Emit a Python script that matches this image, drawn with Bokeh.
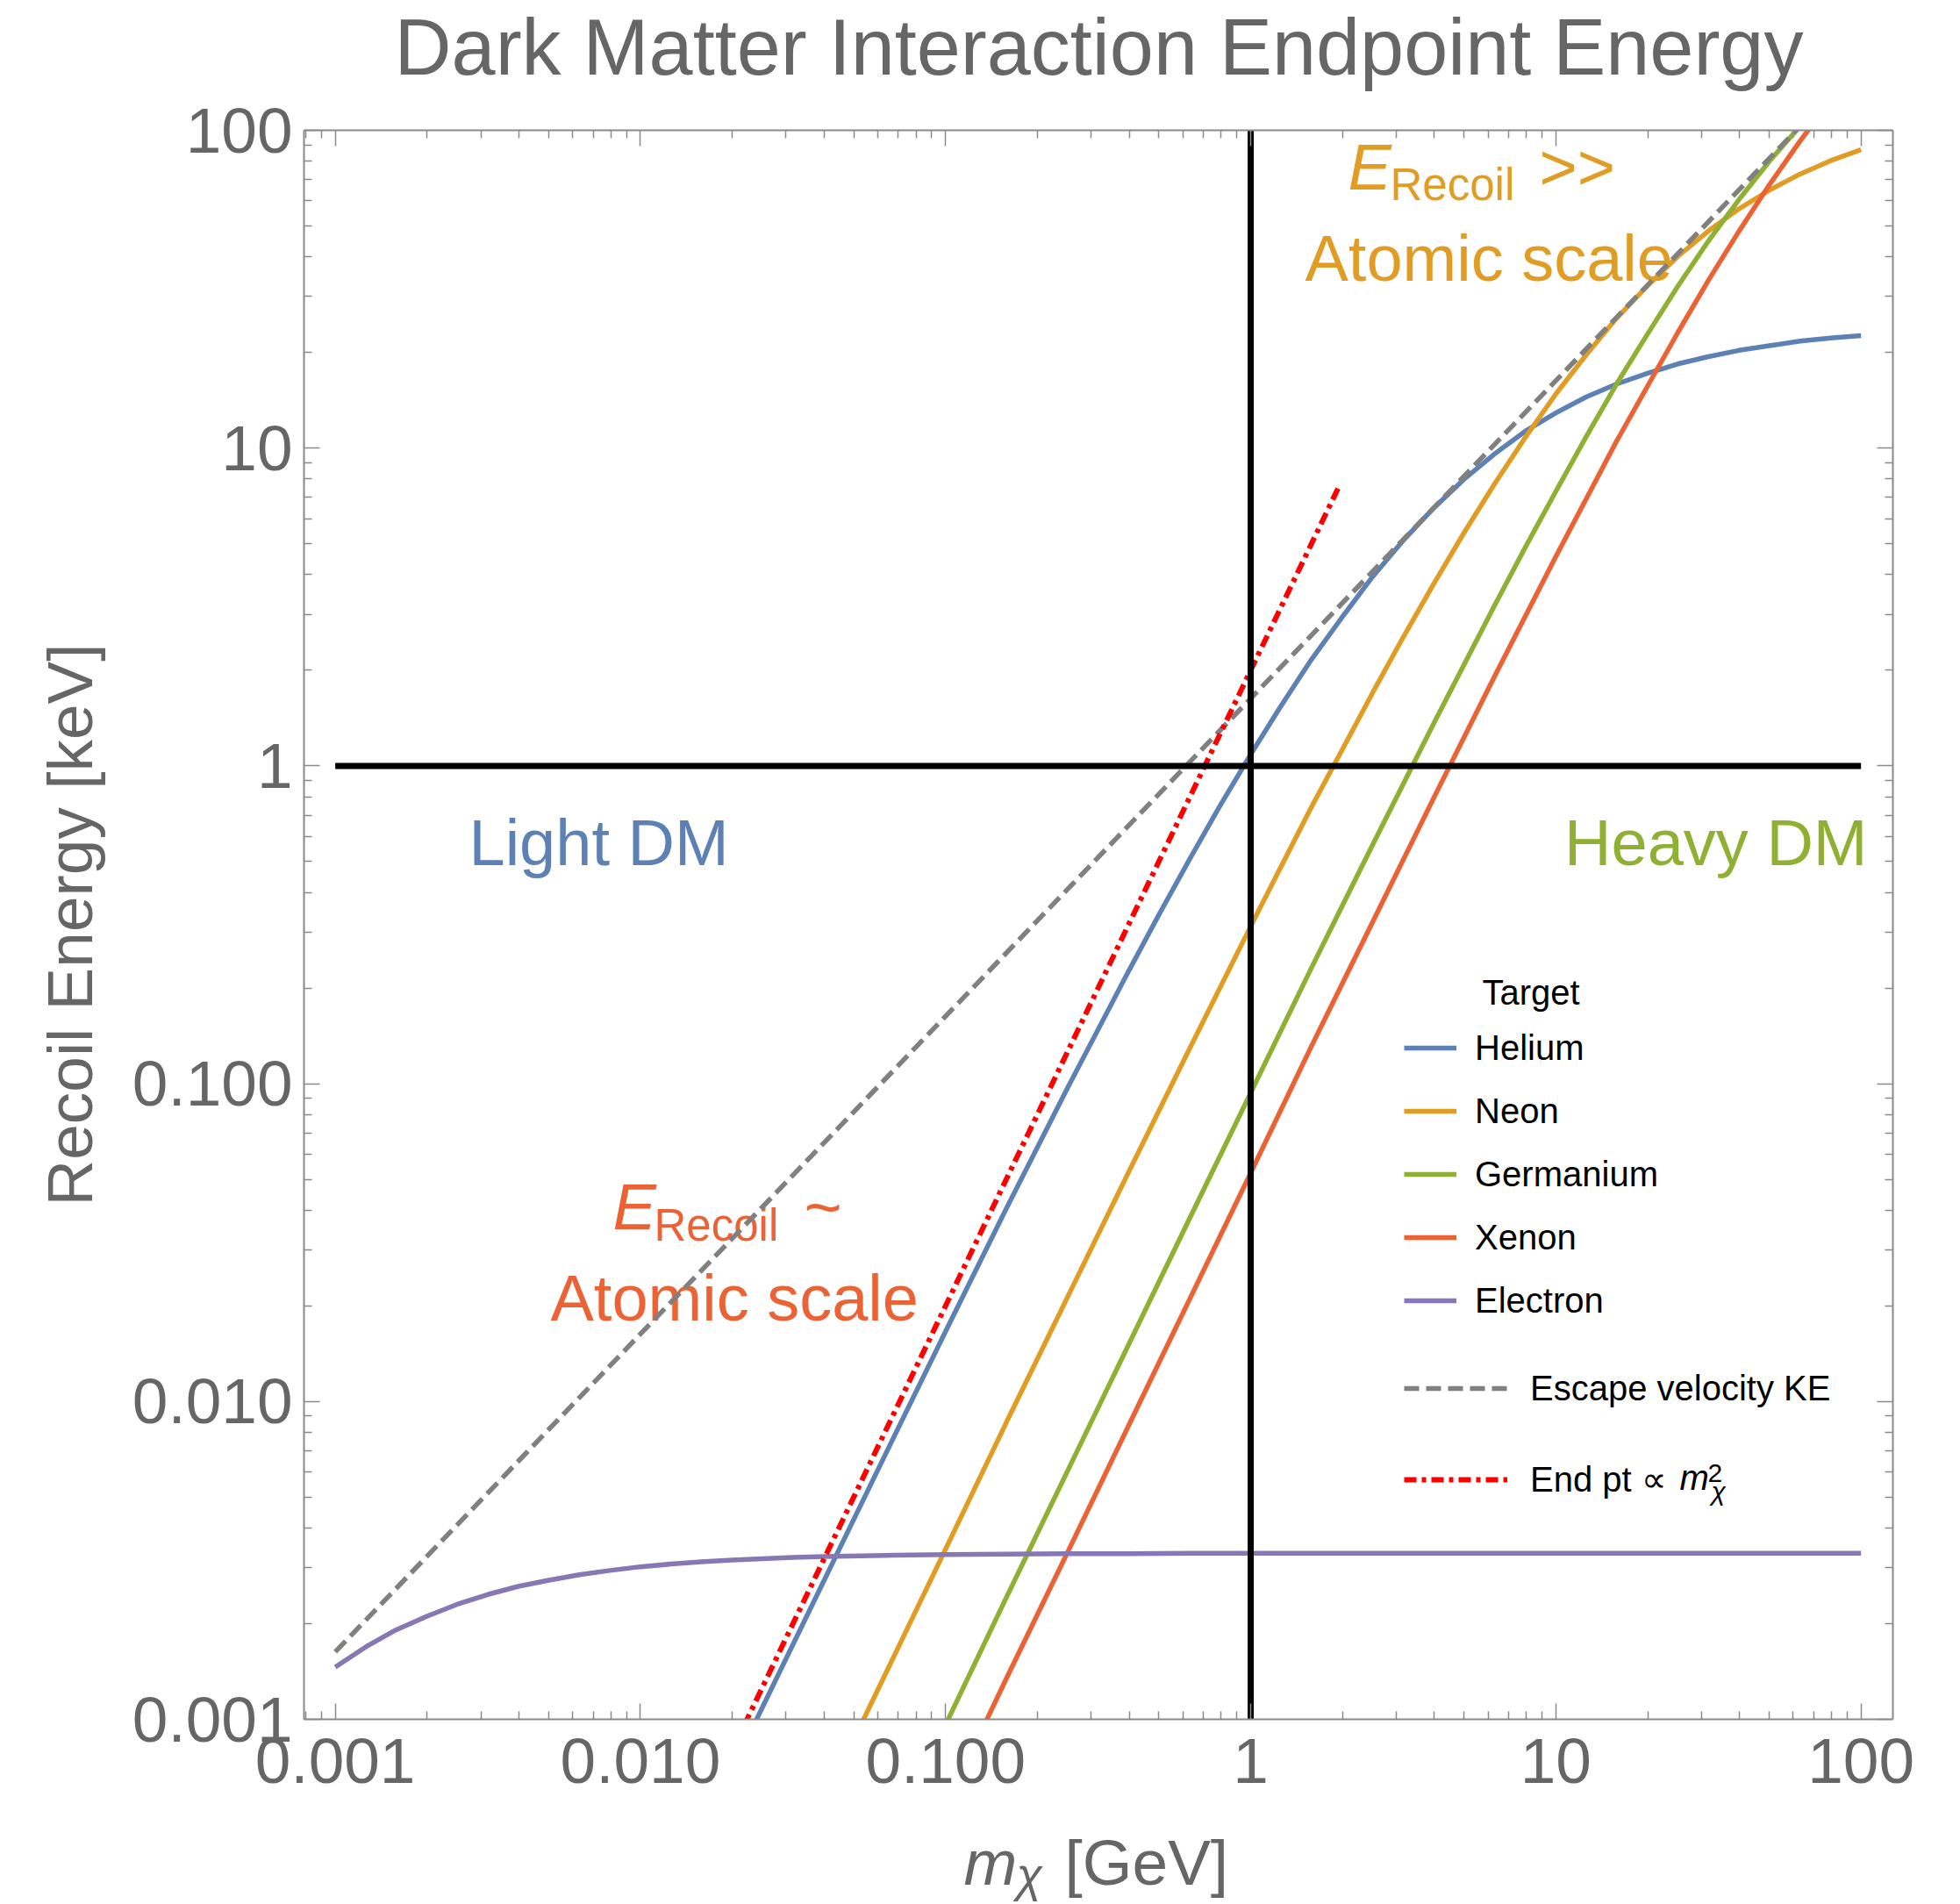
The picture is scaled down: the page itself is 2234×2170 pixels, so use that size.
from bokeh.plotting import figure
from bokeh.layouts import column
from bokeh.models import LogAxis, FixedTicker, Label, Legend, LegendItem, Range1d
from bokeh.embed import file_html
from bokeh.resources import INLINE

# ---------------- data ----------------
mass_He = [0.0158, 0.0251, 0.0398, 0.0631, 0.1, 0.158, 0.251, 0.398, 0.501, 0.631, 0.794, 1,
           1.26, 1.58, 2.0, 2.51, 3.16, 3.98, 5.01, 6.31, 7.94, 10, 12.6, 15.8, 20.0, 25.1,
           31.6, 39.8, 50.1, 63.1, 79.4, 100]
E_He = [0.000436, 0.00109, 0.00271, 0.00673, 0.0166, 0.0404, 0.0969, 0.226, 0.341, 0.509, 0.750, 1.087,
        1.55, 2.16, 2.95, 3.94, 5.12, 6.48, 7.99, 9.60, 11.3, 12.9, 14.5, 15.9, 17.2, 18.4,
        19.4, 20.3, 21.0, 21.7, 22.2, 22.6]

mass_Ne = [0.0398, 0.0631, 0.1, 0.158, 0.251, 0.398, 0.631, 1, 1.58, 2.0, 2.51, 3.16, 3.98,
           5.01, 6.31, 7.94, 10, 12.6, 15.8, 20.0, 25.1, 31.6, 39.8, 50.1, 63.1, 79.4, 100]
E_Ne = [0.000547, 0.00137, 0.00343, 0.00857, 0.0213, 0.0527, 0.129, 0.313, 0.741, 1.13, 1.70, 2.54, 3.74,
        5.43, 7.74, 10.8, 14.8, 19.7, 25.6, 32.5, 40.1, 48.2, 56.6, 64.8, 72.8, 80.2, 86.9]

mass_Ge = [0.0631, 0.1, 0.158, 0.251, 0.398, 0.631, 1, 1.58, 2.51, 3.98, 6.31, 7.94,
           10, 12.6, 15.8, 20.0, 25.1, 31.6, 39.8, 50.1, 63.1, 79.4, 100]
E_Ge = [0.000383, 0.000961, 0.00241, 0.00604, 0.0151, 0.0377, 0.0936, 0.231, 0.565, 1.36, 3.21, 4.87,
        7.31, 10.9, 15.9, 22.9, 32.3, 44.8, 60.5, 79.9, 103, 129, 157]

mass_Xe = [0.1, 0.158, 0.251, 0.398, 0.631, 1, 1.58, 2.51, 3.98, 6.31, 10, 12.6,
           15.8, 20.0, 25.1, 31.6, 39.8, 50.1, 63.1, 79.4, 100]
E_Xe = [0.000532, 0.00134, 0.00335, 0.0084, 0.0210, 0.0524, 0.131, 0.323, 0.793, 1.92, 4.56, 6.95,
        10.5, 15.7, 23.1, 33.7, 48.1, 67.4, 92.4, 124, 161]

mass_e = [0.001, 0.00126, 0.00158, 0.002, 0.00251, 0.00316, 0.00398, 0.00501, 0.00631, 0.00794,
          0.01, 0.0126, 0.0158, 0.02, 0.0251, 0.0316, 0.0398, 0.0631, 0.1, 0.158, 0.251,
          0.398, 0.631, 1, 10, 100]
E_e = [0.00146, 0.00169, 0.00191, 0.00211, 0.00230, 0.00247, 0.00262, 0.00274, 0.00285, 0.00294,
       0.00302, 0.00308, 0.00313, 0.00317, 0.00320, 0.00323, 0.00325, 0.00328, 0.00330, 0.00331, 0.00332,
       0.00332, 0.00333, 0.00333, 0.00333, 0.00333]

mass_esc = [0.001, 0.01, 0.1, 1, 10, 100]
E_esc = [0.00163, 0.0163, 0.163, 1.63, 16.3, 163]

mass_m2 = [0.02, 0.1, 1, 1.95]
E_m2 = [0.0008, 0.02, 2.0, 7.6]

ref_h_x = [0.001, 100]
ref_h_y = [1, 1]
ref_v_x = [1, 1]
ref_v_y = [0.001, 100]

tick_values = [0.001, 0.01, 0.1, 1, 10, 100]
tick_labels = ["0.001", "0.010", "0.100", "1", "10", "100"]

series_names = ["Helium", "Neon", "Germanium", "Xenon", "Electron"]

# ---------------- styling ----------------
FONT = "Liberation Sans"
TXT = "#666666"
AXC = "#8a8a8a"
C_HE, C_NE, C_GE, C_XE, C_E = "#5E81B5", "#E19C24", "#8FB032", "#EB6235", "#8778B3"
W = 5.5

FRAME_L, FRAME_R = 346, 2157   # horizontal extent of the plot frame (page px)
OVERLAP = 80                   # main plot is pulled up under the (transparent) header


def blank_fig(h):
    # frames inside a column line up with the main plot frame, so x is in page px
    f = figure(width=2234, height=h, x_range=Range1d(FRAME_L, FRAME_R), y_range=Range1d(0, h),
               x_axis_location=None, y_axis_location=None, title=None,
               output_backend="svg", toolbar_location=None, min_border=0)
    f.outline_line_color = None
    f.background_fill_alpha = 0
    f.border_fill_alpha = 0
    f.grid.visible = False
    return f


def lab(fig, text, x, y, size, color, italic=False, align="left", level="underlay", units="screen"):
    l = Label(x=x, y=y, x_units=units, y_units=units, text=text,
              text_font=FONT, text_font_size=size, text_color=color,
              text_font_style="italic" if italic else "normal",
              text_baseline="middle", text_align=align, level=level)
    fig.add_layout(l)
    return l


# header with the title (page rows 0..148)
header = blank_fig(148)
lab(header, "Dark Matter Interaction Endpoint Energy", 1252, 94.5, "90px", TXT,
    align="center", level="annotation", units="data")

# main plot (page rows 68..2079); frame 1811 x 1811 starting at page (346, 148)
p = figure(width=2234, height=OVERLAP + 1811 + 120, x_axis_type="log", y_axis_type="log",
           x_range=Range1d(7.9e-4, 127.2), y_range=Range1d(0.001, 100), title=None,
           output_backend="svg", toolbar_location=None,
           min_border_left=346, min_border_right=77, min_border_top=OVERLAP, min_border_bottom=120,
           margin=(-OVERLAP, 0, 0, 0))
p.background_fill_color = "white"
p.border_fill_alpha = 0
p.outline_line_color = None
p.xgrid.visible = False
p.ygrid.visible = False

minor_x = [m * 10.0 ** k for k in range(-4, 3) for m in range(2, 10)
           if 7.9e-4 < m * 10.0 ** k < 127]
minor_y = [m * 10.0 ** k for k in range(-3, 2) for m in range(2, 10)]
overrides = dict(zip(tick_values, tick_labels))

xax = p.xaxis[0]
yax = p.yaxis[0]


def style_axis(ax, minor, show_labels):
    ax.ticker = FixedTicker(ticks=tick_values, minor_ticks=minor)
    ax.axis_line_color = AXC
    ax.axis_line_width = 2
    ax.major_tick_line_color = AXC
    ax.minor_tick_line_color = AXC
    ax.major_tick_line_width = 1.5
    ax.minor_tick_line_width = 1.5
    ax.major_tick_in = 18
    ax.major_tick_out = 0
    ax.minor_tick_in = 9
    ax.minor_tick_out = 0
    ax.major_label_overrides = overrides
    ax.major_label_text_font = FONT
    if show_labels:
        ax.major_label_text_font_size = "73px"
        ax.major_label_text_color = TXT
    else:
        ax.major_label_text_font_size = "1px"
        ax.major_label_text_color = None
        ax.major_label_text_alpha = 0
        ax.major_label_standoff = 0


style_axis(xax, minor_x, True)
style_axis(yax, minor_y, True)
xax.major_label_standoff = 22
yax.major_label_standoff = 13
yax.axis_label = "Recoil Energy [keV]"
yax.axis_label_text_font = FONT
yax.axis_label_text_font_size = "73px"
yax.axis_label_text_font_style = "normal"
yax.axis_label_text_color = TXT
yax.axis_label_standoff = 28

top_ax = LogAxis()
right_ax = LogAxis()
style_axis(top_ax, minor_x, False)
style_axis(right_ax, minor_y, False)
p.add_layout(top_ax, "above")
p.add_layout(right_ax, "right")

# annotation texts inside the frame (frame-relative px, y up; y = middle of capitals)
lab(p, "Light DM", 188, 999.5, "74px", C_HE)
lab(p, "Heavy DM", 1782, 999.5, "74px", C_GE, align="right")
lab(p, "E", 1190, 1769.5, "74px", C_NE, italic=True)
lab(p, "Recoil", 1238, 1749.3, "51px", C_NE)
lab(p, ">>", 1408, 1769.5, "74px", C_NE)
lab(p, "Atomic scale", 1141, 1665.5, "74px", C_NE)
lab(p, "E", 352, 584.5, "74px", C_XE, italic=True)
lab(p, "Recoil", 399, 563.3, "51px", C_XE)
lab(p, "~", 570, 584.5, "74px", C_XE)
lab(p, "Atomic scale", 281, 480.5, "74px", C_XE)

# ---------------- curves ----------------
r_he = p.line(mass_He, E_He, line_color=C_HE, line_width=W)
r_ne = p.line(mass_Ne, E_Ne, line_color=C_NE, line_width=W)
r_ge = p.line(mass_Ge, E_Ge, line_color=C_GE, line_width=W)
r_xe = p.line(mass_Xe, E_Xe, line_color=C_XE, line_width=W)
r_e = p.line(mass_e, E_e, line_color=C_E, line_width=W)
r_esc = p.line(mass_esc, E_esc, line_color="#808080", line_width=W, line_dash="17 8")
r_m2 = p.line(mass_m2, E_m2, line_color="#FF0000", line_width=6, line_dash="14 6 5 6")
p.line(ref_h_x, ref_h_y, line_color="black", line_width=7)
p.line(ref_v_x, ref_v_y, line_color="black", line_width=7)

# ---------------- legends ----------------
common = dict(padding=0, margin=0, border_line_color=None, background_fill_alpha=0,
              label_text_font=FONT, label_text_font_size="40px", label_text_color="black",
              glyph_height=60, label_height=60)
leg1 = Legend(items=[LegendItem(label=n, renderers=[r]) for n, r in
                     zip(series_names, [r_he, r_ne, r_ge, r_xe, r_e])],
              location=(1254, 447), glyph_width=60, spacing=12, label_standoff=21, **common)
leg2 = Legend(items=[LegendItem(label="Escape velocity KE", renderers=[r_esc]),
                     LegendItem(label="End pt \u221d", renderers=[r_m2])],
              location=(1254, 243), glyph_width=118, spacing=44, label_standoff=26, **common)
p.add_layout(leg1)
p.add_layout(leg2)

lab(p, "Target", 1343, 828.3, "40px", "black", level="annotation")
lab(p, "m", 1568, 275.3, "40px", "black", italic=True, level="annotation")
lab(p, "2", 1600, 280.7, "30px", "black", level="annotation")
lab(p, "\u03c7", 1604, 259.7, "30px", "black", italic=True, level="annotation")

# footer with the x axis label (page rows 2079..2170)
footer = blank_fig(91)
lab(footer, "m", 1098, 48, "73px", TXT, italic=True, level="annotation", units="data")
lab(footer, "\u03c7", 1158, 34, "54px", TXT, italic=True, level="annotation", units="data")
lab(footer, "[GeV]", 1213, 48, "73px", TXT, level="annotation", units="data")

layout = column(header, p, footer, spacing=0)
open("out.html", "w").write(file_html(layout, INLINE))
